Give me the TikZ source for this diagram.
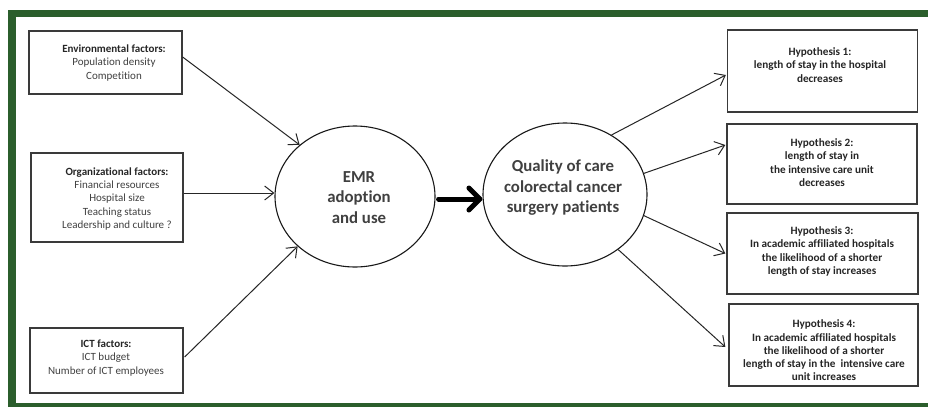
\documentclass[tikz,border=0pt]{standalone}
\usepackage{fontspec}
\setmainfont{Carlito}[Ligatures=NoCommon]
\usetikzlibrary{arrows.meta,shapes.geometric}
\definecolor{framegreen}{HTML}{2B5E2C}
\definecolor{boxline}{HTML}{3A3A3A}
\definecolor{txtdark}{HTML}{262626}
\definecolor{txtgray}{HTML}{404040}

\begin{document}
\begin{tikzpicture}[x=1pt,y=-1pt,
  factor/.style={draw=boxline,line width=1.3pt,rectangle,inner sep=0pt},
  ftext/.style={align=center,font=\fontsize{11}{13.4}\selectfont,text=txtgray},
  hyp/.style={draw=boxline,line width=1.3pt,rectangle,inner sep=0pt},
  htext/.style={align=center,font=\bfseries\fontsize{11.2}{13.3}\selectfont,text=txtdark},
  oval/.style={draw=black!90,line width=1.1pt,ellipse,inner sep=0pt},
  otext/.style={align=center,font=\bfseries\fontsize{16.8}{20.5}\selectfont,text=txtgray},
  link/.style={draw=black!85,line width=1pt,-{Straight Barb[length=9pt,width=14pt]}},
  bigarrow/.style={draw=black,line width=5pt,line cap=round,
    -{Straight Barb[length=11pt,width=22pt,round]}}
]
\useasboundingbox (0,0) rectangle (928,407);
\fill[white] (0,0) rectangle (928,407);

% green frame
\fill[framegreen] (8,10) rectangle (928,17);
\fill[framegreen] (8,10) rectangle (16,407);
\fill[framegreen] (16,403) rectangle (928,407);

% factor boxes
\node[factor,minimum width=153pt,minimum height=63pt] (env) at (105.5,62.5) {};
\node[ftext] (envtxt) at (114,63) {{\color{txtdark}\bfseries Environmental factors:}\\Population density\\Competition};

\node[factor,minimum width=152pt,minimum height=89pt] (org) at (107,197.5) {};
\node[ftext] (orgtxt) at (117,199) {{\color{txtdark}\bfseries Organizational factors:}\\Financial resources\\Hospital size\\Teaching status\\Leadership and culture ?};

\node[factor,minimum width=153pt,minimum height=65pt] (ict) at (106.5,360.5) {};
\node[ftext] (icttxt) at (106,358) {{\color{txtdark}\bfseries ICT factors:}\\ICT budget\\Number of ICT employees};

% central ovals
\node[oval,minimum width=160pt,minimum height=141pt] (emr) at (355,196.5) {};
\node[otext] (emrtxt) at (359,197.5) {EMR\\adoption\\and use};

\node[oval,minimum width=164pt,minimum height=143pt] (qual) at (565,194.5) {};
\node[otext] (qualtxt) at (563,188) {Quality of care\\colorectal cancer\\surgery patients};

% hypothesis boxes
\node[hyp,minimum width=190pt,minimum height=82pt] (h1) at (822.5,71) {};
\node[htext] (h1txt) at (820,65) {Hypothesis 1:\\length of stay in the hospital\\decreases};

\node[hyp,minimum width=190pt,minimum height=80pt] (h2) at (822,164) {};
\node[htext] (h2txt) at (822,162.5) {Hypothesis 2:\\length of stay in\\the intensive care unit\\decreases};

\node[hyp,minimum width=191pt,minimum height=81pt] (h3) at (822.5,253.5) {};
\node[htext] (h3txt) at (822,251.5) {Hypothesis 3:\\In academic affiliated hospitals\\the likelihood of a shorter\\length of stay increases};

\node[hyp,minimum width=189pt,minimum height=82pt] (h4) at (823.5,345) {};
\node[htext] (h4txt) at (824,350.5) {Hypothesis 4:\\In academic affiliated hospitals\\the likelihood of a shorter\\length of stay in the\ \ intensive care\\unit increases};

% factors -> EMR
\coordinate (orgout) at ([yshift=4.5pt]org.east);
\draw[link] ([yshift=5.5pt]env.east) -- (emr.137);
\draw[link] (orgout) -- (emr.west |- orgout);
\draw[link] ([xshift=1pt,yshift=3.5pt]ict.east) -- (emr.221.5);

% EMR -> quality of care
\draw[bigarrow] ([xshift=3pt,yshift=-2.5pt]emr.east) -- ([yshift=-4.5pt]qual.west);

% quality of care -> hypotheses
\draw[link] (qual.52) -- ([xshift=-1pt,yshift=-4pt]h1.west);
\draw[link] (qual.15.7) -- ([xshift=-1pt,yshift=19pt]h2.west);
\draw[link] (qual.-15.7) -- ([xshift=-1pt]h3.west);
\draw[link] (qual.-46.3) -- ([xshift=-3pt,yshift=-2pt]h4.west);
\end{tikzpicture}
\end{document}
